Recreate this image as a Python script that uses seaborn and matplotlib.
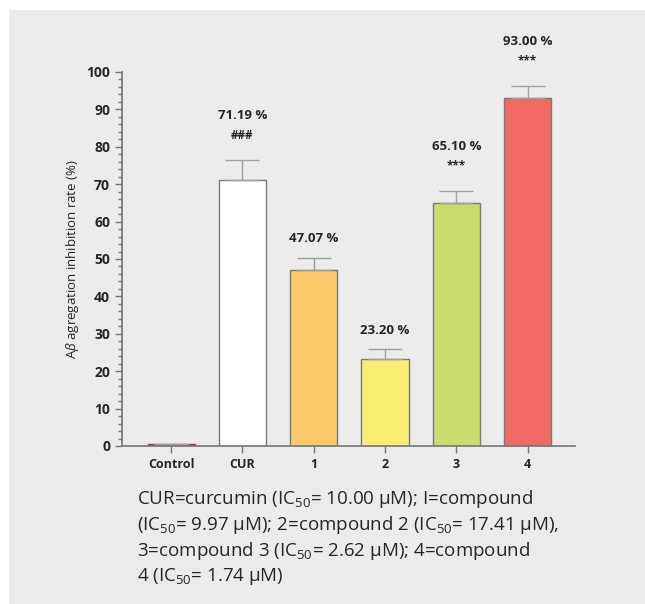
import numpy as np
import pandas as pd
import matplotlib
matplotlib.use('Agg')
import matplotlib.pyplot as plt
import seaborn as sns
from matplotlib.ticker import MultipleLocator

# data
groups = ['Control', 'CUR', '1', '2', '3', '4']
rates = [0.4, 71.19, 47.07, 23.20, 65.10, 93.00]
errors = [0.2, 5.3, 3.2, 2.7, 3.2, 3.3]
pct_labels = ['', '71.19 %', '47.07 %', '23.20 %', '65.10 %', '93.00 %']
sig_labels = ['', '###', '', '', '***', '***']
bar_colors = ['#9b3b3b', '#ffffff', '#fdc96a', '#f8ee72', '#c9dc6e', '#f26a66']

caption = ("CUR=curcumin (IC$_{50}$= 10.00 µM); I=compound\n"
           "(IC$_{50}$= 9.97 µM); 2=compound 2 (IC$_{50}$= 17.41 µM),\n"
           "3=compound 3 (IC$_{50}$= 2.62 µM); 4=compound\n"
           "4 (IC$_{50}$= 1.74 µM)")

bg = '#ebebeb'
sns.set_style('ticks')
plt.rcParams['font.family'] = ['Open Sans', 'DejaVu Sans']
plt.rcParams['mathtext.fontset'] = 'custom'
plt.rcParams['mathtext.rm'] = 'Open Sans'
plt.rcParams['mathtext.it'] = 'Open Sans:italic'

df = pd.DataFrame({'group': groups, 'rate': rates})

fig = plt.figure(figsize=(6.45, 6.04), dpi=100)
fig.patch.set_facecolor('white')
fig.patches.append(plt.Rectangle((9 / 645, 0), 1, 1 - 10 / 604, transform=fig.transFigure,
                                 facecolor=bg, edgecolor='none', zorder=-10))

ax = fig.add_axes([0.189, 0.2616, 0.702, 0.6192])
ax.set_facecolor(bg)

sns.barplot(data=df, x='group', y='rate', hue='group', palette=bar_colors, legend=False,
            saturation=1, width=0.66, edgecolor='#7a7a7a', linewidth=1.0, ax=ax)
# control bar outline is the dark red of its fill
ax.patches[0].set_edgecolor('#9b3b3b')

x = np.arange(len(groups))
ax.errorbar(x, rates, yerr=[np.zeros(len(errors)), errors], fmt='none',
            ecolor='#a0a0a0', elinewidth=1.0, capsize=12, capthick=1.0, zorder=1)

for i in range(len(groups)):
    top = rates[i] + errors[i]
    if sig_labels[i]:
        ax.annotate(sig_labels[i], (x[i], top), xytext=(0, 13), textcoords='offset points',
                    ha='center', va='bottom', fontsize=8.5, fontweight='bold',
                    annotation_clip=False)
        ax.annotate(pct_labels[i], (x[i], top), xytext=(0, 27), textcoords='offset points',
                    ha='center', va='bottom', fontsize=9.5, fontweight='bold',
                    annotation_clip=False)
    elif pct_labels[i]:
        ax.annotate(pct_labels[i], (x[i], top), xytext=(0, 9), textcoords='offset points',
                    ha='center', va='bottom', fontsize=9.5, fontweight='bold',
                    annotation_clip=False)

ax.set_ylim(0, 100)
ax.set_xlim(-0.69, 5.66)
ax.yaxis.set_major_locator(MultipleLocator(10))
ax.yaxis.set_minor_locator(MultipleLocator(2))
ax.tick_params(axis='y', which='major', length=5, width=1, color='#777777')
ax.tick_params(axis='y', which='minor', length=3, width=1, color='#777777')
ax.tick_params(axis='x', length=5, width=1, color='#777777')
ax.set_xticks(x, groups, fontsize=9, fontweight='bold')
ax.set_yticks(np.arange(0, 101, 10), [str(v) for v in range(0, 101, 10)],
              fontsize=10, fontweight='bold')

for s in ['top', 'right']:
    ax.spines[s].set_visible(False)
for s in ['left', 'bottom']:
    ax.spines[s].set_color('#777777')
    ax.spines[s].set_linewidth(1.2)

ax.set_xlabel('')
ax.set_ylabel(r'A$\mathit{\beta}$ agregation inhibition rate (%)', fontsize=9.5, labelpad=4)

fig.text(137 / 645, 1 - 488 / 604, caption, ha='left', va='top', fontsize=13.5,
         linespacing=1.25)

fig.savefig('out.png', dpi=100)
